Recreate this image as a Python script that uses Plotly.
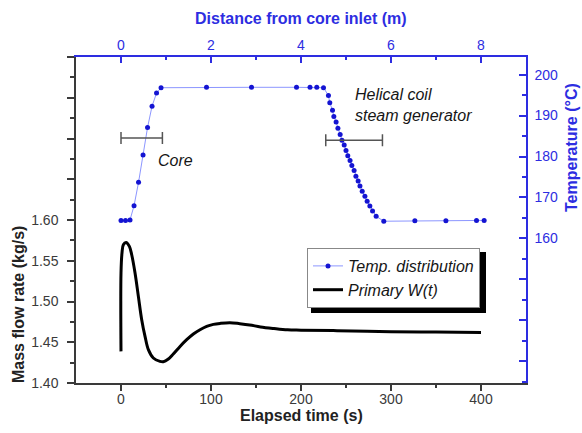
import plotly.graph_objects as go

# ---------------- data ----------------
# Primary mass flow rate W(t)
time_s = [0, 0, 1.1, 2.6, 5.6, 9.3, 11.9, 15.6, 19.3, 23, 26.7, 30.4, 35.9, 43.3, 47,
          52.6, 58.1, 65.6, 73, 80.4, 87.8, 95.2, 102.6, 110, 121, 132, 143, 155, 170,
          185, 200, 240, 300, 350, 400]
flow_kgs = [1.4388, 1.535, 1.5595, 1.5697, 1.5725, 1.5676, 1.5574, 1.535, 1.5063, 1.4777,
            1.4572, 1.4409, 1.4307, 1.4265, 1.4261, 1.4294, 1.4356, 1.4449, 1.4531, 1.4601,
            1.4654, 1.4695, 1.4719, 1.4731, 1.474, 1.4728, 1.4712, 1.4688, 1.4668, 1.4652,
            1.4648, 1.4642, 1.463, 1.4625, 1.4621]

# Temperature distribution along the loop
distance_m = [0.0, 0.1, 0.2, 0.29, 0.39, 0.49, 0.59, 0.69, 0.79, 0.89,
              1.9, 2.9, 3.9, 4.2, 4.35, 4.5,
              4.61, 4.64, 4.70, 4.73, 4.78, 4.82, 4.87, 4.91, 4.96, 5.00,
              5.04, 5.09, 5.13, 5.18, 5.22, 5.27, 5.31, 5.36, 5.42, 5.47,
              5.53, 5.59, 5.67, 5.84, 6.53, 7.22, 7.9, 8.07]
temp_c = [164.4, 164.4, 164.5, 168.0, 173.7, 180.4, 187.1, 192.3, 195.5, 196.8,
          196.9, 196.9, 196.9, 196.9, 196.9, 196.8,
          194.9, 193.1, 191.3, 189.8, 188.4, 186.9, 185.4, 184.0, 182.8, 181.5,
          180.2, 179.0, 177.8, 176.6, 175.2, 174.0, 172.8, 171.5, 170.3, 169.1,
          167.9, 166.7, 165.4, 164.2, 164.3, 164.3, 164.4, 164.4]

# Component spans (start, end) in m and the temperature level they are drawn at
span_names = ["Core", "Helical coil<br>steam generator"]
span_start = [0.0, 4.55]
span_end = [0.92, 5.81]
span_level = [184.5, 184.0]
label_x = [0.77, 5.15]
label_y = [179.0, 192.5]

# Tick values / labels
x_ticks = [0, 100, 200, 300, 400]
x_minor = [50, 150, 250, 350]
y_ticks = [1.40, 1.45, 1.50, 1.55, 1.60, 1.65, 1.70, 1.75, 1.80]
y_ticktext = ["1.40", "1.45", "1.50", "1.55", "1.60", "", "", "", ""]
y_minor = [1.425, 1.475, 1.525, 1.575, 1.625, 1.675, 1.725, 1.775]
x2_ticks = [0, 2, 4, 6, 8]
x2_minor = [-1, 1, 3, 5, 7, 9]
y2_ticks = [130, 140, 150, 160, 170, 180, 190, 200]
y2_ticktext = ["", "", "", "160", "170", "180", "190", "200"]
y2_minor = [125, 135, 145, 155, 165, 175, 185, 195]

FONT = "Arial, 'Liberation Sans', sans-serif"
BLUE = "rgb(45,45,225)"
DARK = "#3a3a3a"

# plot-area geometry in pixels (for placing titles/shadow)
L, R, T, B = 76, 526, 57, 383
W_PA, H_PA = R - L, B - T


def px(xp):
    return (xp - L) / W_PA


def py(yp):
    return (B - yp) / H_PA


fig = go.Figure()

fig.add_trace(go.Scatter(
    x=distance_m, y=temp_c, xaxis="x2", yaxis="y2",
    mode="lines+markers", name="Temp. distribution",
    line=dict(color="rgb(140,150,255)", width=1),
    marker=dict(color="rgb(20,20,210)", size=5),
))

fig.add_trace(go.Scatter(
    x=time_s, y=flow_kgs, xaxis="x", yaxis="y",
    mode="lines", name="Primary W(t)", line_shape="spline",
    line=dict(color="black", width=3),
))

# span bars (core, steam generator)
for s, e, lv in zip(span_start, span_end, span_level):
    c = (s + e) / 2
    fig.add_trace(go.Scatter(
        x=[c], y=[lv], xaxis="x2", yaxis="y2", mode="markers",
        marker=dict(size=0.1, color="rgba(0,0,0,0)"), showlegend=False,
        error_x=dict(type="data", array=[(e - s) / 2], color="#555555",
                     thickness=1.5, width=6),
    ))

annotations = []
for name, lx, ly in zip(span_names, label_x, label_y):
    annotations.append(dict(
        x=lx, y=ly, xref="x2", yref="y2", text=name, showarrow=False,
        xanchor="left", yanchor="middle", align="left",
        font=dict(family=FONT, size=16, color="#161616", style="italic"),
    ))

# axis titles
annotations += [
    dict(text="<b>Elapsed time (s)</b>", x=0.5, y=py(415), xref="paper", yref="paper",
         xanchor="center", yanchor="middle", showarrow=False,
         font=dict(family=FONT, size=16, color="#222")),
    dict(text="<b>Distance from core inlet (m)</b>", x=0.5, y=py(18), xref="paper", yref="paper",
         xanchor="center", yanchor="middle", showarrow=False,
         font=dict(family=FONT, size=16, color=BLUE)),
    dict(text="<b>Mass flow rate (kg/s)</b>", x=px(18), y=py(305),
         xref="paper", yref="paper", textangle=-90,
         xanchor="center", yanchor="middle", showarrow=False,
         font=dict(family=FONT, size=16, color="#222")),
    dict(text="<b>Temperature (°C)</b>", x=px(571), y=py(148),
         xref="paper", yref="paper", textangle=-90,
         xanchor="center", yanchor="middle", showarrow=False,
         font=dict(family=FONT, size=16, color=BLUE)),
]

# legend drop shadow (legend box itself is drawn by plotly on top)
LEG_X, LEG_TOP = 307, 248
shapes = [dict(type="rect", xref="paper", yref="paper",
               x0=px(LEG_X + 4), x1=px(486), y0=py(313), y1=py(LEG_TOP + 4),
               fillcolor="black", line=dict(width=0), layer="above")]

fig.update_layout(
    width=582, height=433,
    margin=dict(l=L, r=582 - R, t=T, b=433 - B, autoexpand=False),
    plot_bgcolor="white", paper_bgcolor="white",
    font=dict(family=FONT, size=14, color=DARK),
    showlegend=True,
    legend=dict(x=px(LEG_X), y=py(LEG_TOP), xanchor="left", yanchor="top",
                bgcolor="white", bordercolor="#888", borderwidth=1,
                font=dict(family=FONT, size=16, color="#161616", style="italic"),
                tracegroupgap=0),
    annotations=annotations,
    shapes=shapes,
    xaxis=dict(range=[-50, 450], tickmode="array", tickvals=x_ticks, automargin=False,
               ticks="outside", ticklen=6, tickwidth=1.5, tickcolor=DARK,
               showline=True, linecolor=DARK, linewidth=1.5,
               showgrid=False, zeroline=False, ticklabelstandoff=-4,
               tickfont=dict(size=14, color=DARK),
               minor=dict(tickmode="array", tickvals=x_minor, ticks="outside",
                          ticklen=3, tickcolor=DARK, showgrid=False)),
    yaxis=dict(range=[1.40, 1.80], tickmode="array", tickvals=y_ticks, ticktext=y_ticktext,
               automargin=False,
               ticks="outside", ticklen=7, tickwidth=1.5, tickcolor=DARK,
               showline=True, linecolor=DARK, linewidth=1.5,
               showgrid=False, zeroline=False, ticklabelstandoff=6,
               tickfont=dict(size=14, color=DARK),
               minor=dict(tickmode="array", tickvals=y_minor, ticks="outside",
                          ticklen=4, tickcolor=DARK, showgrid=False)),
    xaxis2=dict(range=[-1, 9], overlaying="x", side="top", anchor="y2", automargin=False,
                tickmode="array", tickvals=x2_ticks,
                ticks="inside", ticklen=6, tickwidth=1.5, tickcolor=BLUE,
                showline=True, linecolor=BLUE, linewidth=1.5,
                showgrid=False, zeroline=False,
                tickfont=dict(size=14, color=BLUE),
                minor=dict(tickmode="array", tickvals=x2_minor, ticks="inside",
                           ticklen=3, tickcolor=BLUE, showgrid=False)),
    yaxis2=dict(range=[124.7, 204.3], overlaying="y", side="right", anchor="x2",
                automargin=False,
                tickmode="array", tickvals=y2_ticks, ticktext=y2_ticktext,
                ticks="inside", ticklen=7, tickwidth=1.5, tickcolor=BLUE,
                showline=True, linecolor=BLUE, linewidth=1.5,
                showgrid=False, zeroline=False, ticklabelstandoff=4,
                tickfont=dict(size=14, color=BLUE),
                minor=dict(tickmode="array", tickvals=y2_minor, ticks="inside",
                           ticklen=4, tickcolor=BLUE, showgrid=False)),
)

fig.write_html("out.html", config={"displayModeBar": False},
               post_script="document.body.style.margin='0';document.body.style.padding='0';")
